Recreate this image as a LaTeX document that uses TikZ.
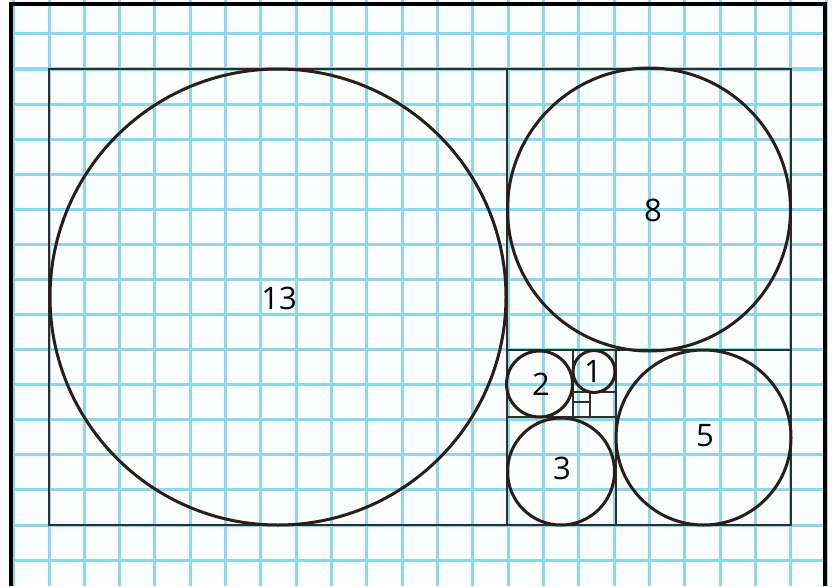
\documentclass[tikz,border=0pt]{standalone}
\usepackage{fontspec}
\setmainfont{Open Sans}
\definecolor{gridblue}{HTML}{8ED6EA}
\definecolor{ringbrown}{HTML}{2A1E17}
\definecolor{boxgray}{HTML}{2E2E2E}
\definecolor{paper}{HTML}{FAFEFF}
\begin{document}
\begin{tikzpicture}[x=1pt,y=-1pt,
  gridline/.style={draw=gridblue,line width=3pt},
  frameline/.style={draw=black,line width=3.2pt},
  boxline/.style={draw=boxgray,line width=2pt},
  ring/.style={draw=ringbrown,line width=3pt},
  num/.style={font=\fontsize{31}{31}\selectfont,text=black,inner sep=0pt}]
\useasboundingbox (0,0) rectangle (832,586);
\fill[white] (0,0) rectangle (832,586);
\fill[paper] (11,4) rectangle (825,586);
% grid
\foreach \k in {-1,...,22} {
  \draw[gridline] ({49+35.33*\k},0) -- ({49+35.33*\k},586);
}
\foreach \k in {-1,...,15} {
  \draw[gridline] (11,{69+35.08*\k}) -- (825,{69+35.08*\k});
}
% frame
\draw[frameline] (11,586) -- (11,4) -- (825,4) -- (825,586);
% golden rectangle subdivisions
\draw[boxline] (49,69) rectangle (791,525);
\draw[boxline] (507,69) -- (507,525);
\draw[boxline] (507,350) -- (791,350);
\draw[boxline] (616,350) -- (616,525);
\draw[boxline] (507,417) -- (616,417);
\draw[boxline] (573,350) -- (573,417);
\draw[boxline] (573,392) -- (616,392);
\draw[boxline] (590,392) -- (590,417);
\draw[boxline] (573,402) -- (590,402);
% circles
\draw[ring] (278,297) circle (228);
\draw[ring] (649,209.5) circle (141.5);
\draw[ring] (703.5,437.5) circle (87.5);
\draw[ring] (561,471.5) circle (53.5);
\draw[ring] (539.5,384) circle (33);
\draw[ring] (594,371.5) circle (21);
% labels
\node[num] (n13) at (279,298) {13};
\node[num] (n8) at (653,210) {8};
\node[num] (n5) at (705,436) {5};
\node[num] (n3) at (562,468) {3};
\node[num] (n2) at (541,384) {2};
\node[num] (n1) at (593,371) {1};
\end{tikzpicture}
\end{document}
